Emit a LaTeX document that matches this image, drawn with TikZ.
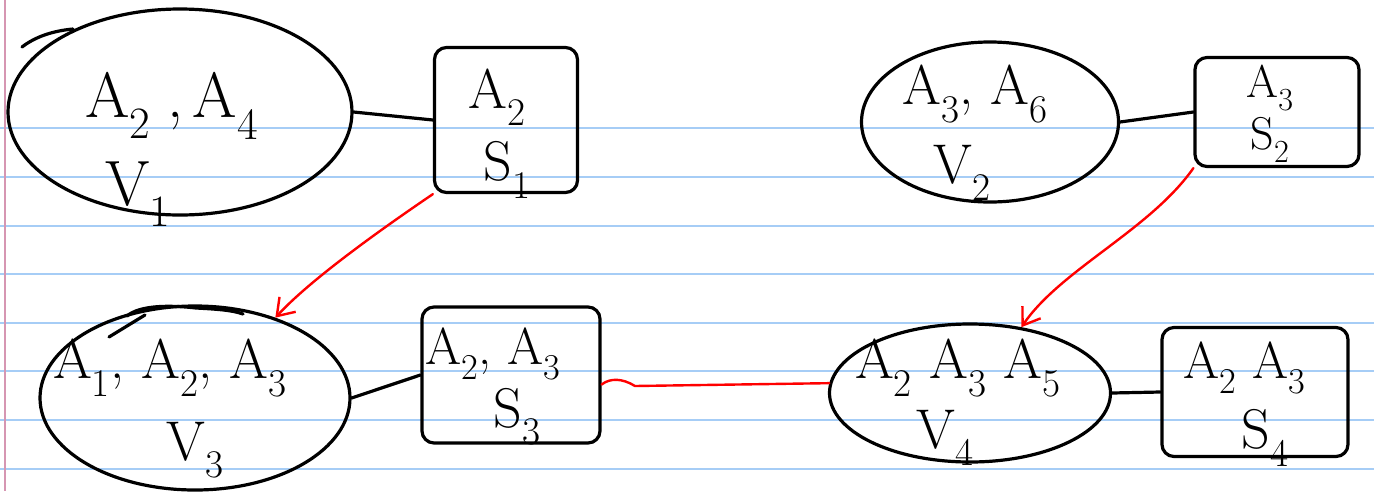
\documentclass[tikz,border=0pt]{standalone}
\usepackage{fontspec}
\usetikzlibrary{shapes.geometric,arrows.meta,calc}
\definecolor{rulecol}{RGB}{166,205,246}
\definecolor{margincol}{RGB}{214,150,178}
\begin{document}
\begin{tikzpicture}[x=1pt,y=-1pt,
  ink/.style={line width=3.2pt,black,line cap=round,line join=round},
  vset/.style={ink,draw,ellipse,inner sep=0pt},
  sepbox/.style={ink,draw,rectangle,rounded corners=12pt,inner sep=0pt},
  lbl/.style={font=\fontsize{64}{68}\selectfont,inner sep=0pt},
  slbl/.style={font=\fontsize{56}{60}\selectfont,inner sep=0pt},
  ulbl/.style={font=\fontsize{52}{56}\selectfont,inner sep=0pt},
  tlbl/.style={font=\fontsize{46}{50}\selectfont,inner sep=0pt},
  redline/.style={line width=2.4pt,red,line cap=round,line join=round},
  redarrow/.style={redline,-{Straight Barb[length=16pt,width=22pt,line width=2.4pt]}},
  ruled/.style={line width=2pt,color=rulecol},
  margin/.style={line width=1.4pt,color=margincol}
]
\useasboundingbox (0,0) rectangle (1374,491);
\fill[white] (0,0) rectangle (1374,491);
% notebook rules
\foreach \yy in {128,177,226,274,323,371,420,469}
  \draw[ruled] (0,\yy) -- (1374,\yy);
\draw[margin] (5,0) -- (5,491);

% cluster nodes
\node[vset,minimum width=344pt,minimum height=206pt] (V1) at (180,112) {};
\node[vset,minimum width=257pt,minimum height=160pt] (V2) at (990,122) {};
\node[vset,minimum width=310pt,minimum height=184pt] (V3) at (195,398) {};
\node[vset,minimum width=281pt,minimum height=138pt] (V4) at (970,393) {};

% separator boxes
\node[sepbox,minimum width=143pt,minimum height=145pt] (S1) at (506,120) {};
\node[sepbox,minimum width=164pt,minimum height=109pt] (S2) at (1277,112) {};
\node[sepbox,minimum width=178pt,minimum height=136pt] (S3) at (511,375) {};
\node[sepbox,minimum width=186pt,minimum height=129pt] (S4) at (1255,392) {};

% labels
\node[lbl] (t1) at (172,106) {A\textsubscript{2}\hspace{16pt},\hspace{10pt}A\textsubscript{4}};
\node[lbl] (n1) at (138,194) {V\textsubscript{1}};
\node[slbl] (t2) at (975,94) {A\textsubscript{3}, A\textsubscript{6}};
\node[slbl] (n2) at (962,173) {V\textsubscript{2}};
\node[slbl] (t3) at (170,368) {A\textsubscript{1}, A\textsubscript{2}, A\textsubscript{3}};
\node[slbl] (n3) at (195,450) {V\textsubscript{3}};
\node[slbl] (t4) at (958,368) {A\textsubscript{2} A\textsubscript{3} A\textsubscript{5}};
\node[slbl] (n4) at (945,438) {V\textsubscript{4}};

\node[slbl] (u1) at (497,97) {A\textsubscript{2}};
\node[slbl] (m1) at (507,170) {S\textsubscript{1}};
\node[tlbl] (u2) at (1270,88) {A\textsubscript{3}};
\node[tlbl] (m2) at (1270,140) {S\textsubscript{2}};
\node[ulbl] (u3) at (493,354) {A\textsubscript{2}, A\textsubscript{3}};
\node[slbl] (m3) at (517,417) {S\textsubscript{3}};
\node[ulbl] (u4) at (1245,368) {A\textsubscript{2} A\textsubscript{3}};
\node[slbl] (m4) at (1265,438) {S\textsubscript{4}};

% stray pen strokes
\draw[ink] (22,47) .. controls (35,37) and (52,31) .. (73,29);
\draw[ink] (109,337) -- (145,315);
\draw[ink] (127,316) .. controls (140,305) and (170,305) .. (196,308) .. controls (215,309) and (232,310) .. (243,314);

% black connectors cluster -> separator
\draw[ink] (V1.east) -- (S1.west);
\draw[ink] (V2.east) -- (S2.west);
\draw[ink] (V3.east) -- (S3.west);
\draw[ink] (V4.east) -- (S4.west);

% red connectors between separators and clusters
\draw[redarrow] (S1.south west) .. controls (380,230) and (310,280) .. (V3.45);
\draw[redarrow] (S2.south west) .. controls (1150,230) and (1060,270) .. (V4.52);
\draw[redline] (S3.-6) .. controls (610,378) and (622,378) .. (635,386) -- (V4.176);
\end{tikzpicture}
\end{document}
